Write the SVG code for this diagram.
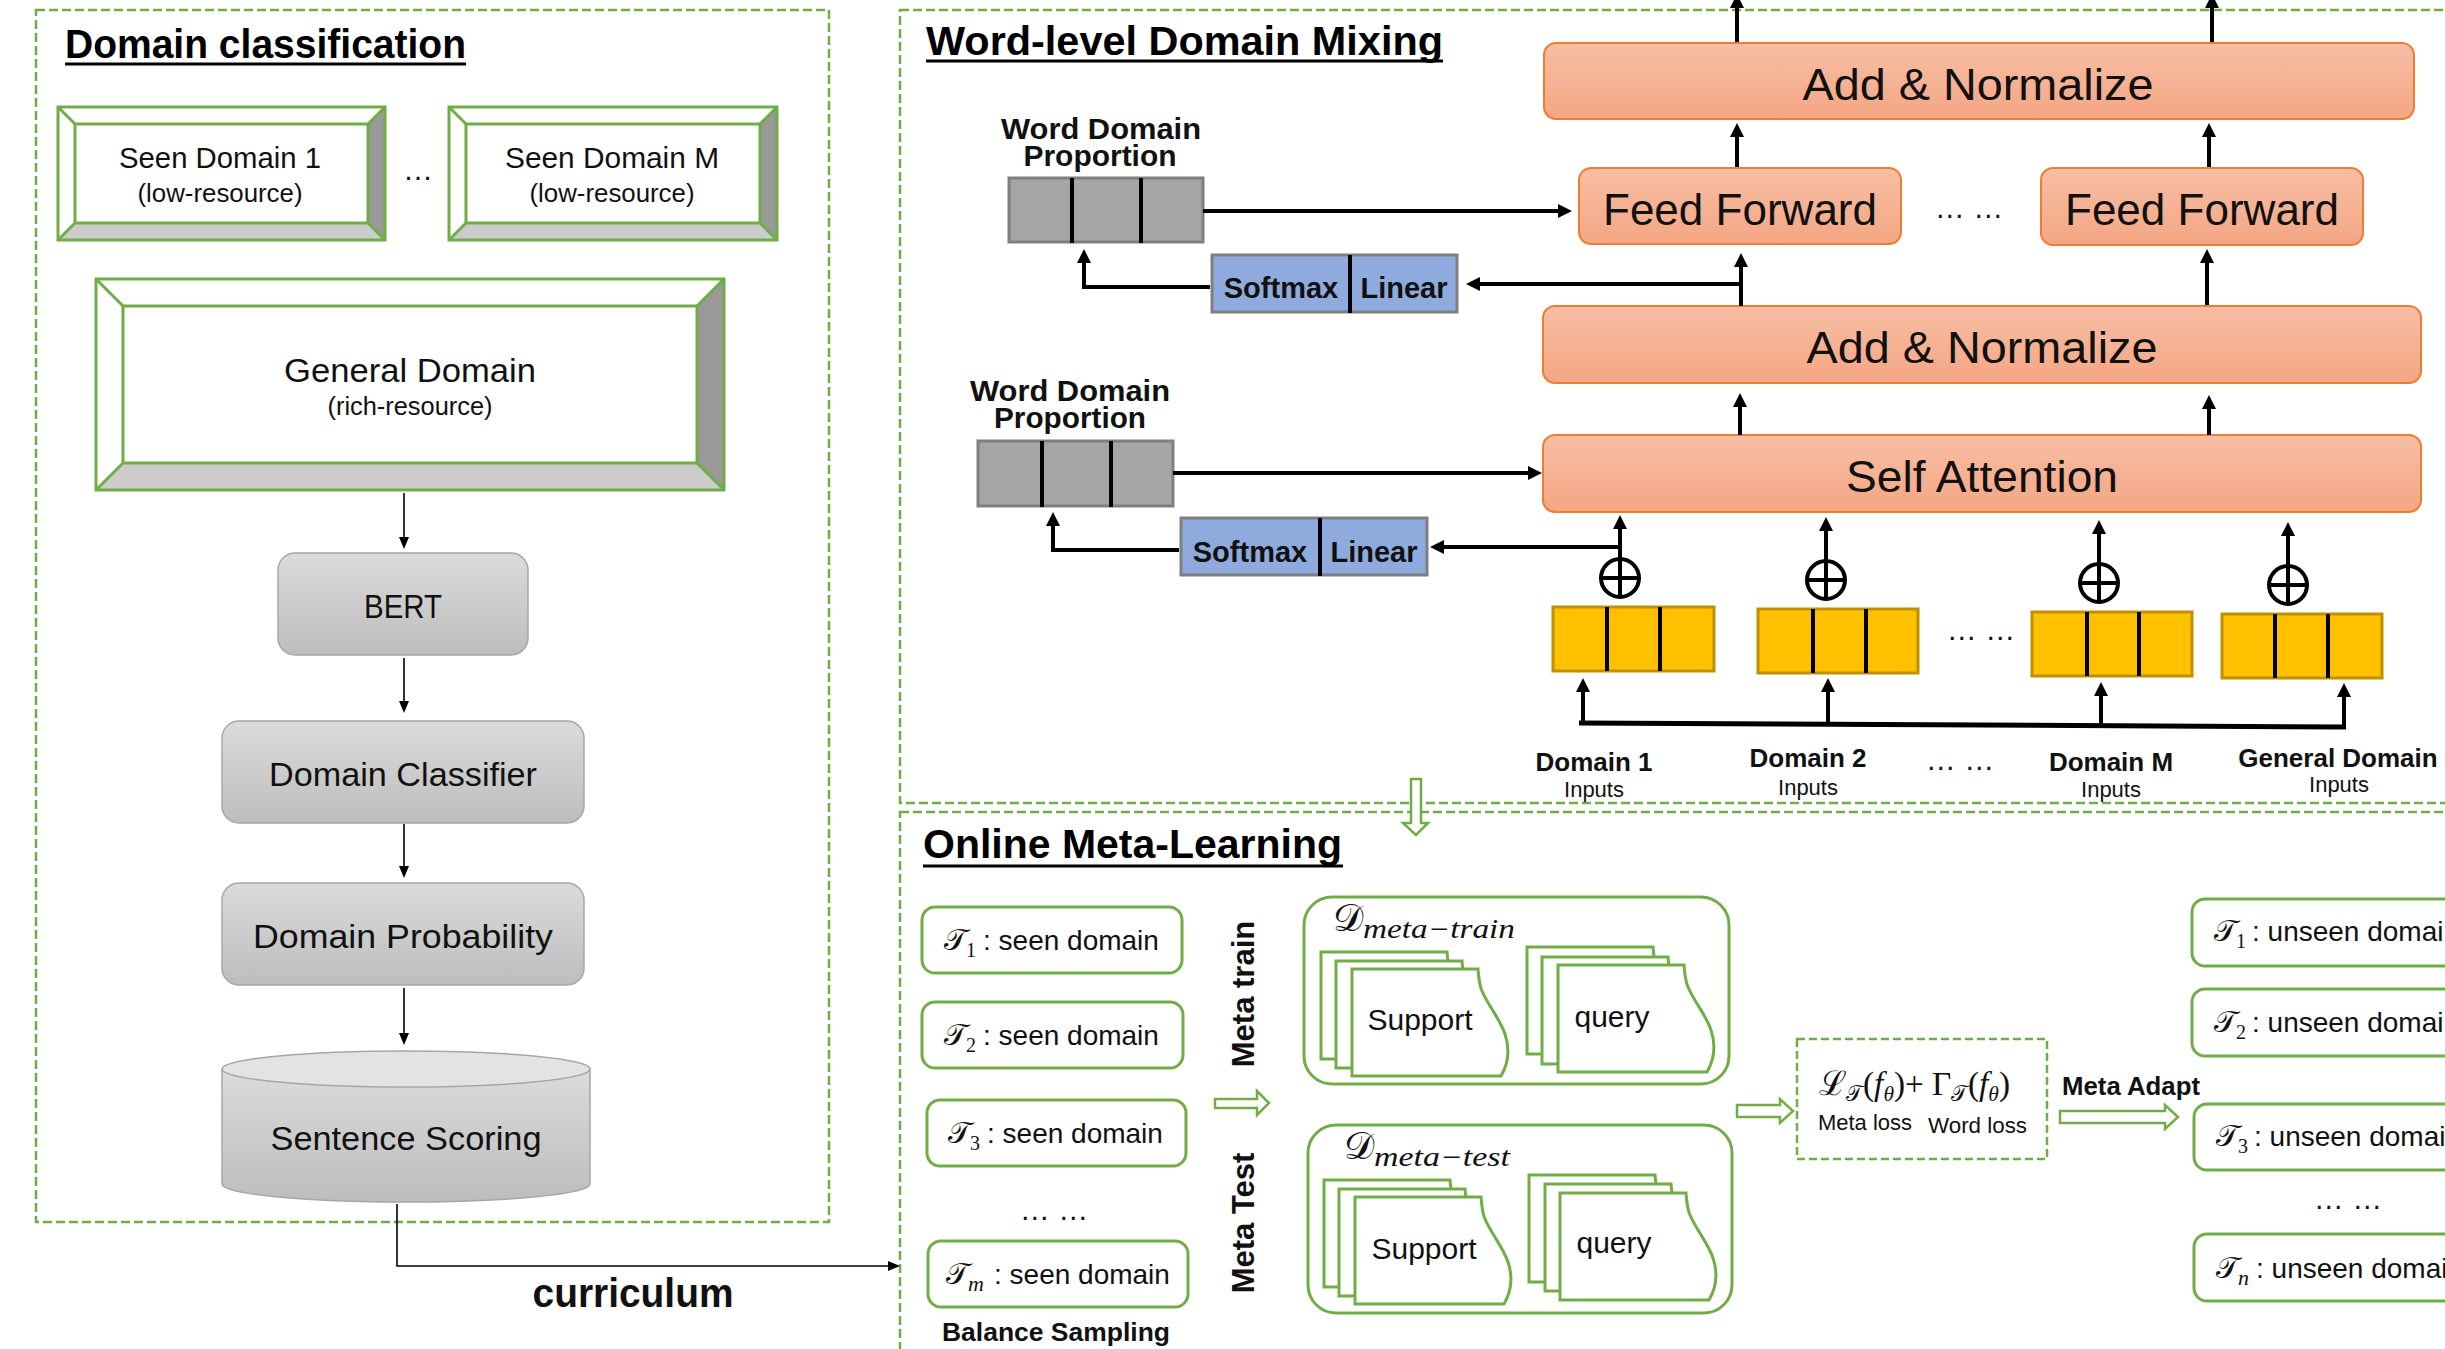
<svg xmlns="http://www.w3.org/2000/svg" width="2445" height="1349" viewBox="0 0 2445 1349">
<style>
  .sans{font-family:"Liberation Sans",Arial,sans-serif;fill:#111}
  .b{font-weight:bold}
  .mid{text-anchor:middle}
  .title{font-family:"Liberation Sans",Arial,sans-serif;font-weight:bold;font-size:40px;fill:#000}
  .uline{stroke:#000;stroke-width:3}
  .panel{fill:none;stroke:#70AD47;stroke-width:2.5;stroke-dasharray:9 4}
  .gline{fill:none;stroke:#70AD47;stroke-width:3}
  .gbox{fill:#fff;stroke:#70AD47;stroke-width:3}
  .orange{fill:url(#gOrange);stroke:#ED7D31;stroke-width:2}
  .grey{fill:url(#gGray);stroke:#A6A6A6;stroke-width:1.5}
  .prop{fill:#A5A5A5;stroke:#7F7F7F;stroke-width:3}
  .soft{fill:#8FAADC;stroke:#7F7F7F;stroke-width:3}
  .yel{fill:#FFC000;stroke:#BF9000;stroke-width:3}
  .div{stroke:#000;stroke-width:4}
  .thick{fill:none;stroke:#000;stroke-width:4;marker-end:url(#ah)}
  .thin{fill:none;stroke:#000;stroke-width:1.6;marker-end:url(#ahs)}
  .bus{fill:none;stroke:#000;stroke-width:5}
  .hollow{fill:#fff;stroke:#70AD47;stroke-width:2.5}
  .math{font-family:"Liberation Serif","DejaVu Serif",serif;fill:#111}
  .oplus{fill:#fff;stroke:#000;stroke-width:4}
</style>
<defs>
  <linearGradient id="gOrange" x1="0" y1="0" x2="0" y2="1">
    <stop offset="0" stop-color="#F7BEA5"/>
    <stop offset="1" stop-color="#F4A683"/>
  </linearGradient>
  <linearGradient id="gGray" x1="0" y1="0" x2="0" y2="1">
    <stop offset="0" stop-color="#DBDBDB"/>
    <stop offset="1" stop-color="#BDBDBD"/>
  </linearGradient>
  <marker id="ah" viewBox="0 0 14 14" refX="1" refY="7" markerWidth="14" markerHeight="14" markerUnits="userSpaceOnUse" orient="auto">
    <path d="M0,0 L14,7 L0,14 z" fill="#000"/>
  </marker>
  <marker id="ahs" viewBox="0 0 12 12" refX="1" refY="6" markerWidth="12" markerHeight="12" markerUnits="userSpaceOnUse" orient="auto">
    <path d="M0,1 L12,6 L0,11 z" fill="#000"/>
  </marker>
  <!-- stacked data sheet with a wavy right edge -->
  <path id="sheet" d="M0,0 H126 C127,10 127,15 130,22 C137,38 148,50 153,65 C158,80 156,95 149,107 H0 Z" fill="#fff" stroke="#70AD47" stroke-width="3"/>
</defs>

<rect width="2445" height="1349" fill="#fff"/>

<!-- ========== Panels ========== -->
<g id="panels">
  <rect class="panel" x="36" y="10" width="793" height="1212"/>
  <rect class="panel" x="900" y="10" width="1600" height="793"/>
  <rect class="panel" x="900" y="812" width="1600" height="600"/>
  <text class="title" x="65" y="58" textLength="401" lengthAdjust="spacingAndGlyphs">Domain classification</text>
  <line class="uline" x1="65" y1="64" x2="466" y2="64"/>
  <text class="title" x="926" y="55" textLength="517" lengthAdjust="spacingAndGlyphs">Word-level Domain Mixing</text>
  <line class="uline" x1="926" y1="61" x2="1443" y2="61"/>
  <text class="title" x="923" y="858" textLength="419" lengthAdjust="spacingAndGlyphs">Online Meta-Learning</text>
  <line class="uline" x1="923" y1="866" x2="1343" y2="866"/>
</g>

<!-- ========== Domain classification ========== -->
<g id="seen-domain-1">
  <polygon points="385,107 385,240 368,223 368,124" fill="#999"/>
  <polygon points="58,240 385,240 368,223 75,223" fill="#ccc"/>
  <path class="gline" d="M58,107 L75,124 M385,107 L368,124 M58,240 L75,223 M385,240 L368,223" stroke-width="2"/>
  <rect class="gline" x="58" y="107" width="327" height="133"/>
  <rect class="gbox" x="75" y="124" width="293" height="99"/>
  <text class="sans mid" x="220" y="168" font-size="30" textLength="202" lengthAdjust="spacingAndGlyphs">Seen Domain 1</text>
  <text class="sans mid" x="220" y="202" font-size="25" textLength="165" lengthAdjust="spacingAndGlyphs">(low-resource)</text>
</g>
<text class="sans mid" x="418" y="180" font-size="30">…</text>
<g id="seen-domain-m">
  <polygon points="777,107 777,240 760,223 760,124" fill="#999"/>
  <polygon points="449,240 777,240 760,223 466,223" fill="#ccc"/>
  <path class="gline" d="M449,107 L466,124 M777,107 L760,124 M449,240 L466,223 M777,240 L760,223" stroke-width="2"/>
  <rect class="gline" x="449" y="107" width="328" height="133"/>
  <rect class="gbox" x="466" y="124" width="294" height="99"/>
  <text class="sans mid" x="612" y="168" font-size="30" textLength="214" lengthAdjust="spacingAndGlyphs">Seen Domain M</text>
  <text class="sans mid" x="612" y="202" font-size="25" textLength="165" lengthAdjust="spacingAndGlyphs">(low-resource)</text>
</g>
<g id="general-domain">
  <polygon points="724,279 724,490 697,463 697,306" fill="#999"/>
  <polygon points="96,490 724,490 697,463 123,463" fill="#ccc"/>
  <path class="gline" d="M96,279 L123,306 M724,279 L697,306 M96,490 L123,463 M724,490 L697,463" stroke-width="2"/>
  <rect class="gline" x="96" y="279" width="628" height="211"/>
  <rect class="gbox" x="123" y="306" width="574" height="157"/>
  <text class="sans mid" x="410" y="382" font-size="33" textLength="252" lengthAdjust="spacingAndGlyphs">General Domain</text>
  <text class="sans mid" x="410" y="415" font-size="25" textLength="165" lengthAdjust="spacingAndGlyphs">(rich-resource)</text>
</g>
<g id="bert">
  <rect class="grey" x="278" y="553" width="250" height="102" rx="17"/>
  <text class="sans mid" x="403" y="618" font-size="33" textLength="78" lengthAdjust="spacingAndGlyphs">BERT</text>
</g>
<g id="domain-classifier">
  <rect class="grey" x="222" y="721" width="362" height="102" rx="17"/>
  <text class="sans mid" x="403" y="786" font-size="33" textLength="268" lengthAdjust="spacingAndGlyphs">Domain Classifier</text>
</g>
<g id="domain-probability">
  <rect class="grey" x="222" y="883" width="362" height="102" rx="17"/>
  <text class="sans mid" x="403" y="948" font-size="33" textLength="300" lengthAdjust="spacingAndGlyphs">Domain Probability</text>
</g>
<g id="sentence-scoring">
  <path d="M222,1069 V1184 A184,18 0 0 0 590,1184 V1069 Z" fill="url(#gGray)" stroke="#A6A6A6" stroke-width="1.5"/>
  <ellipse cx="406" cy="1069" rx="184" ry="18" fill="#E3E3E3" stroke="#A6A6A6" stroke-width="1.5"/>
  <text class="sans mid" x="406" y="1150" font-size="33" textLength="271" lengthAdjust="spacingAndGlyphs">Sentence Scoring</text>
</g>
<text class="sans b mid" x="633" y="1307" font-size="40" textLength="201" lengthAdjust="spacingAndGlyphs">curriculum</text>

<!-- ========== Word-level Domain Mixing ========== -->
<g id="add-norm-top">
  <rect class="orange" x="1544" y="43" width="870" height="76" rx="12"/>
  <text class="sans mid" x="1978" y="100" font-size="45" textLength="351" lengthAdjust="spacingAndGlyphs">Add &amp; Normalize</text>
</g>
<g id="feed-forward-1">
  <rect class="orange" x="1579" y="168" width="322" height="76" rx="12"/>
  <text class="sans mid" x="1740" y="225" font-size="45" textLength="274" lengthAdjust="spacingAndGlyphs">Feed Forward</text>
</g>
<text class="sans mid" x="1969" y="218" font-size="30">… …</text>
<g id="feed-forward-2">
  <rect class="orange" x="2041" y="168" width="322" height="77" rx="12"/>
  <text class="sans mid" x="2202" y="225" font-size="45" textLength="274" lengthAdjust="spacingAndGlyphs">Feed Forward</text>
</g>
<g id="add-norm-bottom">
  <rect class="orange" x="1543" y="306" width="878" height="77" rx="12"/>
  <text class="sans mid" x="1982" y="363" font-size="45" textLength="351" lengthAdjust="spacingAndGlyphs">Add &amp; Normalize</text>
</g>
<g id="self-attention">
  <rect class="orange" x="1543" y="435" width="878" height="77" rx="12"/>
  <text class="sans mid" x="1982" y="492" font-size="45" textLength="272" lengthAdjust="spacingAndGlyphs">Self Attention</text>
</g>

<g id="proportion-upper">
  <text class="sans b mid" x="1101" y="139" font-size="29" textLength="200" lengthAdjust="spacingAndGlyphs">Word Domain</text>
  <text class="sans b mid" x="1100" y="166" font-size="29" textLength="153" lengthAdjust="spacingAndGlyphs">Proportion</text>
  <rect class="prop" x="1009" y="178" width="194" height="64"/>
  <line class="div" x1="1072" y1="178" x2="1072" y2="243"/>
  <line class="div" x1="1141" y1="178" x2="1141" y2="243"/>
</g>
<g id="softmax-linear-upper">
  <rect class="soft" x="1212" y="255" width="245" height="57"/>
  <line class="div" x1="1350" y1="255" x2="1350" y2="313"/>
  <text class="sans b mid" x="1281" y="298" font-size="29">Softmax</text>
  <text class="sans b mid" x="1404" y="298" font-size="29">Linear</text>
</g>
<g id="proportion-lower">
  <text class="sans b mid" x="1070" y="401" font-size="29" textLength="200" lengthAdjust="spacingAndGlyphs">Word Domain</text>
  <text class="sans b mid" x="1070" y="428" font-size="29" textLength="152" lengthAdjust="spacingAndGlyphs">Proportion</text>
  <rect class="prop" x="978" y="441" width="195" height="65"/>
  <line class="div" x1="1042" y1="441" x2="1042" y2="507"/>
  <line class="div" x1="1111" y1="441" x2="1111" y2="507"/>
</g>
<g id="softmax-linear-lower">
  <rect class="soft" x="1181" y="518" width="246" height="57"/>
  <line class="div" x1="1320" y1="518" x2="1320" y2="576"/>
  <text class="sans b mid" x="1250" y="562" font-size="29">Softmax</text>
  <text class="sans b mid" x="1374" y="562" font-size="29">Linear</text>
</g>

<g id="sum-1">
  <circle class="oplus" cx="1620" cy="578" r="19"/>
  <path d="M1601,578 H1639 M1620,559 V597" stroke="#000" stroke-width="4"/>
</g>
<g id="sum-2">
  <circle class="oplus" cx="1826" cy="580" r="19"/>
  <path d="M1807,580 H1845 M1826,561 V599" stroke="#000" stroke-width="4"/>
</g>
<g id="sum-3">
  <circle class="oplus" cx="2099" cy="583" r="19"/>
  <path d="M2080,583 H2118 M2099,564 V602" stroke="#000" stroke-width="4"/>
</g>
<g id="sum-4">
  <circle class="oplus" cx="2288" cy="585" r="19"/>
  <path d="M2269,585 H2307 M2288,566 V604" stroke="#000" stroke-width="4"/>
</g>

<g id="embed-domain-1">
  <rect class="yel" x="1553" y="607" width="161" height="64"/>
  <line class="div" x1="1607" y1="607" x2="1607" y2="671"/>
  <line class="div" x1="1660" y1="607" x2="1660" y2="671"/>
</g>
<g id="embed-domain-2">
  <rect class="yel" x="1758" y="609" width="160" height="64"/>
  <line class="div" x1="1813" y1="609" x2="1813" y2="673"/>
  <line class="div" x1="1866" y1="609" x2="1866" y2="673"/>
</g>
<text class="sans mid" x="1981" y="640" font-size="30">… …</text>
<g id="embed-domain-m">
  <rect class="yel" x="2032" y="612" width="160" height="64"/>
  <line class="div" x1="2087" y1="612" x2="2087" y2="676"/>
  <line class="div" x1="2139" y1="612" x2="2139" y2="676"/>
</g>
<g id="embed-general">
  <rect class="yel" x="2222" y="614" width="160" height="64"/>
  <line class="div" x1="2275" y1="614" x2="2275" y2="678"/>
  <line class="div" x1="2328" y1="614" x2="2328" y2="678"/>
</g>

<g id="input-labels">
  <text class="sans b mid" x="1594" y="771" font-size="26">Domain 1</text>
  <text class="sans mid" x="1594" y="797" font-size="22">Inputs</text>
  <text class="sans b mid" x="1808" y="767" font-size="26">Domain 2</text>
  <text class="sans mid" x="1808" y="795" font-size="22">Inputs</text>
  <text class="sans mid" x="1960" y="770" font-size="30">… …</text>
  <text class="sans b mid" x="2111" y="771" font-size="26">Domain M</text>
  <text class="sans mid" x="2111" y="797" font-size="22">Inputs</text>
  <text class="sans b mid" x="2338" y="767" font-size="26">General Domain</text>
  <text class="sans mid" x="2339" y="792" font-size="22">Inputs</text>
</g>

<!-- ========== Online Meta-Learning ========== -->
<g id="seen-task-1">
  <rect class="gbox" x="922" y="907" width="260" height="66" rx="13"/>
  <text class="math" x="944" y="950" font-size="30">𝒯<tspan x="966" font-size="20" dy="7">1</tspan></text>
  <text class="sans" x="983" y="950" font-size="28">: seen domain</text>
</g>
<g id="seen-task-2">
  <rect class="gbox" x="922" y="1002" width="261" height="66" rx="13"/>
  <text class="math" x="944" y="1045" font-size="30">𝒯<tspan x="966" font-size="20" dy="7">2</tspan></text>
  <text class="sans" x="983" y="1045" font-size="28">: seen domain</text>
</g>
<g id="seen-task-3">
  <rect class="gbox" x="927" y="1100" width="259" height="66" rx="13"/>
  <text class="math" x="948" y="1143" font-size="30">𝒯<tspan x="970" font-size="20" dy="7">3</tspan></text>
  <text class="sans" x="987" y="1143" font-size="28">: seen domain</text>
</g>
<text class="sans mid" x="1054" y="1220" font-size="30">… …</text>
<g id="seen-task-m">
  <rect class="gbox" x="928" y="1241" width="260" height="66" rx="13"/>
  <text class="math" x="946" y="1284" font-size="30">𝒯<tspan x="968" font-size="22" font-style="italic" dy="7">m</tspan></text>
  <text class="sans" x="994" y="1284" font-size="28">: seen domain</text>
</g>
<text class="sans b mid" x="1056" y="1341" font-size="26" textLength="228" lengthAdjust="spacingAndGlyphs">Balance Sampling</text>

<text class="sans b mid" transform="translate(1243,994) rotate(-90)" x="0" y="11" font-size="31">Meta train</text>
<text class="sans b mid" transform="translate(1243,1223) rotate(-90)" x="0" y="11" font-size="31">Meta Test</text>

<g id="meta-train-set">
  <rect class="gline" x="1304" y="897" width="425" height="187" rx="28"/>
  <text class="math" x="1333" y="931" font-size="38">𝒟</text>
  <text class="math" x="1363" y="938" font-size="27" font-style="italic" textLength="152" lengthAdjust="spacingAndGlyphs">meta−train</text>
  <use href="#sheet" x="1321" y="952"/>
  <use href="#sheet" x="1336" y="961"/>
  <use href="#sheet" x="1352" y="969"/>
  <text class="sans mid" x="1420" y="1030" font-size="30">Support</text>
  <use href="#sheet" x="1527" y="947"/>
  <use href="#sheet" x="1542" y="957"/>
  <use href="#sheet" x="1558" y="965"/>
  <text class="sans mid" x="1612" y="1027" font-size="30">query</text>
</g>
<g id="meta-test-set">
  <rect class="gline" x="1308" y="1125" width="424" height="188" rx="28"/>
  <text class="math" x="1344" y="1159" font-size="38">𝒟</text>
  <text class="math" x="1374" y="1166" font-size="27" font-style="italic" textLength="136" lengthAdjust="spacingAndGlyphs">meta−test</text>
  <use href="#sheet" x="1324" y="1180"/>
  <use href="#sheet" x="1339" y="1189"/>
  <use href="#sheet" x="1355" y="1197"/>
  <text class="sans mid" x="1424" y="1259" font-size="30">Support</text>
  <use href="#sheet" x="1529" y="1175"/>
  <use href="#sheet" x="1545" y="1184"/>
  <use href="#sheet" x="1560" y="1193"/>
  <text class="sans mid" x="1614" y="1253" font-size="30">query</text>
</g>

<g id="loss">
  <rect x="1797" y="1039" width="250" height="120" fill="none" stroke="#70AD47" stroke-width="2.5" stroke-dasharray="8 4"/>
  <text class="math" x="1819" y="1095" font-size="34" textLength="191" lengthAdjust="spacingAndGlyphs">ℒ<tspan font-size="22" dy="6">𝒯</tspan><tspan dy="-6">(</tspan><tspan font-style="italic">f</tspan><tspan font-size="22" font-style="italic" dy="6">θ</tspan><tspan dy="-6">)+ Γ</tspan><tspan font-size="22" dy="6">𝒯</tspan><tspan dy="-6">(</tspan><tspan font-style="italic">f</tspan><tspan font-size="22" font-style="italic" dy="6">θ</tspan><tspan dy="-6">)</tspan></text>
  <text class="sans" x="1818" y="1130" font-size="22" textLength="94" lengthAdjust="spacingAndGlyphs">Meta loss</text>
  <text class="sans" x="1928" y="1133" font-size="22" textLength="99" lengthAdjust="spacingAndGlyphs">Word loss</text>
</g>
<text class="sans b" x="2062" y="1095" font-size="26" textLength="138" lengthAdjust="spacingAndGlyphs">Meta Adapt</text>

<g id="unseen-task-1">
  <rect class="gbox" x="2192" y="899" width="300" height="67" rx="13"/>
  <text class="math" x="2214" y="941" font-size="30">𝒯<tspan x="2236" font-size="20" dy="7">1</tspan></text>
  <text class="sans" x="2252" y="941" font-size="28">: unseen domain</text>
</g>
<g id="unseen-task-2">
  <rect class="gbox" x="2192" y="989" width="300" height="67" rx="13"/>
  <text class="math" x="2214" y="1032" font-size="30">𝒯<tspan x="2236" font-size="20" dy="7">2</tspan></text>
  <text class="sans" x="2252" y="1032" font-size="28">: unseen domain</text>
</g>
<g id="unseen-task-3">
  <rect class="gbox" x="2194" y="1104" width="300" height="66" rx="13"/>
  <text class="math" x="2216" y="1146" font-size="30">𝒯<tspan x="2238" font-size="20" dy="7">3</tspan></text>
  <text class="sans" x="2254" y="1146" font-size="28">: unseen domain</text>
</g>
<text class="sans mid" x="2348" y="1209" font-size="30">… …</text>
<g id="unseen-task-n">
  <rect class="gbox" x="2194" y="1234" width="300" height="67" rx="13"/>
  <text class="math" x="2216" y="1278" font-size="30">𝒯<tspan x="2238" font-size="22" font-style="italic" dy="7">n</tspan></text>
  <text class="sans" x="2256" y="1278" font-size="28">: unseen domain</text>
</g>

<!-- ========== Connectors ========== -->
<g id="connectors">
  <!-- domain classification pipeline -->
  <path class="thin" d="M404,493 V538"/>
  <path class="thin" d="M404,658 V702"/>
  <path class="thin" d="M404,824 V867"/>
  <path class="thin" d="M404,988 V1034"/>
  <path class="thin" d="M397,1204 V1266 H889" stroke-width="2"/>

  <!-- word-level mixing -->
  <path class="thick" d="M1203,211 H1559"/>
  <path class="thick" d="M1210,287 H1084 V262"/>
  <path class="thick" d="M1741,284 H1479"/>
  <path class="thick" d="M1741,306 V266"/>
  <path class="thick" d="M2207,305 V262"/>
  <path class="thick" d="M1737,167 V136"/>
  <path class="thick" d="M2209,167 V136"/>
  <path class="thick" d="M1737,42 V7"/>
  <path class="thick" d="M2212,42 V7"/>
  <path class="thick" d="M1740,435 V406"/>
  <path class="thick" d="M2209,435 V408"/>
  <path class="thick" d="M1620,559 V528"/>
  <path class="thick" d="M1826,561 V530"/>
  <path class="thick" d="M2099,564 V533"/>
  <path class="thick" d="M2288,566 V535"/>
  <path class="thick" d="M1620,547 H1443"/>
  <path class="thick" d="M1173,473 H1529"/>
  <path class="thick" d="M1179,550 H1053 V525"/>
  <path class="bus" d="M1579,723 L2346,727"/>
  <path class="thick" d="M1583,723 V691"/>
  <path class="thick" d="M1828,724 V691"/>
  <path class="thick" d="M2101,726 V695"/>
  <path class="thick" d="M2344,727 V696"/>

  <!-- hollow block arrows -->
  <polygon class="hollow" points="1411,779 1421,779 1421,823 1428,823 1416,835 1403,823 1411,823"/>
  <polygon class="hollow" points="1215,1099 1257,1099 1257,1091 1269,1103 1257,1115 1257,1108 1215,1108"/>
  <polygon class="hollow" points="1737,1105 1780,1105 1780,1099 1793,1111 1780,1123 1780,1117 1737,1117"/>
  <polygon class="hollow" points="2060,1111 2165,1111 2165,1105 2178,1117 2165,1129 2165,1123 2060,1123"/>
</g>
</svg>
